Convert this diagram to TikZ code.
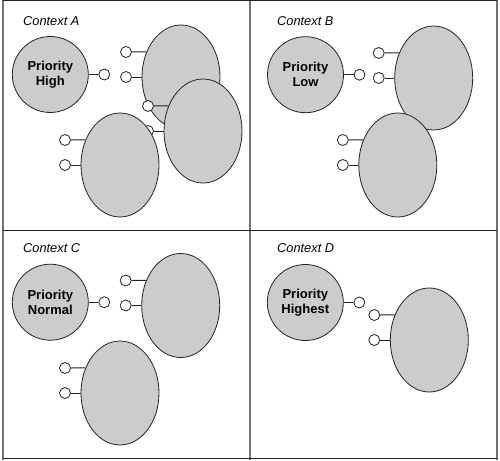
\documentclass[tikz,border=0pt]{standalone}
\usepackage{fontspec}
\setmainfont{Liberation Sans}
\usetikzlibrary{shapes.geometric,calc}
\definecolor{fillgray}{RGB}{204,204,204}
\definecolor{framegray}{RGB}{115,115,115}
\definecolor{linedark}{RGB}{35,35,35}
\tikzset{
  prio/.style={circle, draw=linedark, line width=0.8pt, fill=fillgray, minimum size=76pt, inner sep=0pt, align=center, font=\fontsize{13}{15}\selectfont\bfseries},
  obj/.style={ellipse, draw=linedark, line width=0.8pt, fill=fillgray, minimum width=78pt, minimum height=104pt, inner sep=0pt},
  port/.style={circle, draw=linedark, line width=0.8pt, fill=white, minimum size=11pt, inner sep=0pt},
  link/.style={draw=linedark, line width=1pt},
  ctx/.style={anchor=west, inner sep=0pt, font=\fontsize{12.8}{15}\selectfont\itshape},
  vframe/.style={draw=framegray, line width=2pt},
  hframe/.style={draw=linedark, line width=1pt},
}
\begin{document}
\begin{tikzpicture}[x=1pt,y=-1pt]
\useasboundingbox (0,0) rectangle (500,460);
% frame
\draw[vframe] (2.7,0) -- (2.7,460);
\draw[vframe] (250,0) -- (250,460);
\draw[vframe] (496.5,0) -- (496.5,460);
\draw[hframe] (2.7,0.8) -- (496.5,0.8);
\draw[hframe] (2.7,230.5) -- (496.5,230.5);
\draw[hframe] (2.7,458.3) -- (496.5,458.3);

% ---------- Context A ----------
\node[ctx] (tA) at (23,21) {Context A};
\node[prio] (pA) at (50.3,74.5) {Priority\\High};
\node[port] (qA) at (104.3,74.5) {};
\draw[link] (pA) -- (qA);

\node[obj] (eA1) at (181,77) {};
\node[port] (eA1p1) at ($(eA1)+(-55,-25)$) {};
\node[port] (eA1p2) at ($(eA1)+(-55,0)$) {};
\draw[link] (eA1p1.east) -- (eA1.144);
\draw[link] (eA1p2.east) -- (eA1.west);

\node[port] (eA2p1) at ($(203,131)+(-55,-25)$) {};
\node[port] (eA2p2) at ($(203,131)+(-55,0)$) {};
\node[obj] (eA2) at (203,131) {};
\draw[link] (eA2p1.east) -- (eA2.144);
\draw[link] (eA2p2.east) -- (eA2.west);

\node[obj] (eA3) at (120,165) {};
\node[port] (eA3p1) at ($(eA3)+(-55,-25)$) {};
\node[port] (eA3p2) at ($(eA3)+(-55,0)$) {};
\draw[link] (eA3p1.east) -- (eA3.144);
\draw[link] (eA3p2.east) -- (eA3.west);

% ---------- Context B ----------
\node[ctx] (tB) at (277,21) {Context B};
\node[prio] (pB) at (305.5,74.7) {Priority\\Low};
\node[port] (qB) at (359.5,74.7) {};
\draw[link] (pB) -- (qB);

\node[obj] (eB1) at (433.7,78) {};
\node[port] (eB1p1) at ($(eB1)+(-55,-25)$) {};
\node[port] (eB1p2) at ($(eB1)+(-55,0)$) {};
\draw[link] (eB1p1.east) -- (eB1.144);
\draw[link] (eB1p2.east) -- (eB1.west);

\node[obj] (eB2) at (397.8,165) {};
\node[port] (eB2p1) at ($(eB2)+(-55,-25)$) {};
\node[port] (eB2p2) at ($(eB2)+(-55,0)$) {};
\draw[link] (eB2p1.east) -- (eB2.144);
\draw[link] (eB2p2.east) -- (eB2.west);

% ---------- Context C ----------
\node[ctx] (tC) at (23,248.5) {Context C};
\node[prio] (pC) at (50.3,302.2) {Priority\\Normal};
\node[port] (qC) at (104.3,302.2) {};
\draw[link] (pC) -- (qC);

\node[obj] (eC1) at (180.7,305.5) {};
\node[port] (eC1p1) at ($(eC1)+(-55,-25)$) {};
\node[port] (eC1p2) at ($(eC1)+(-55,0)$) {};
\draw[link] (eC1p1.east) -- (eC1.144);
\draw[link] (eC1p2.east) -- (eC1.west);

\node[obj] (eC2) at (120,393) {};
\node[port] (eC2p1) at ($(eC2)+(-55,-25)$) {};
\node[port] (eC2p2) at ($(eC2)+(-55,0)$) {};
\draw[link] (eC2p1.east) -- (eC2.144);
\draw[link] (eC2p2.east) -- (eC2.west);

% ---------- Context D ----------
\node[ctx] (tD) at (277,248.5) {Context D};
\node[prio] (pD) at (305.3,302.5) {Priority\\Highest};
\node[port] (qD) at (359.3,302.5) {};
\draw[link] (pD) -- (qD);

\node[obj] (eD1) at (429.3,340) {};
\node[port] (eD1p1) at ($(eD1)+(-55,-25)$) {};
\node[port] (eD1p2) at ($(eD1)+(-55,0)$) {};
\draw[link] (eD1p1.east) -- (eD1.144);
\draw[link] (eD1p2.east) -- (eD1.west);
\end{tikzpicture}
\end{document}
